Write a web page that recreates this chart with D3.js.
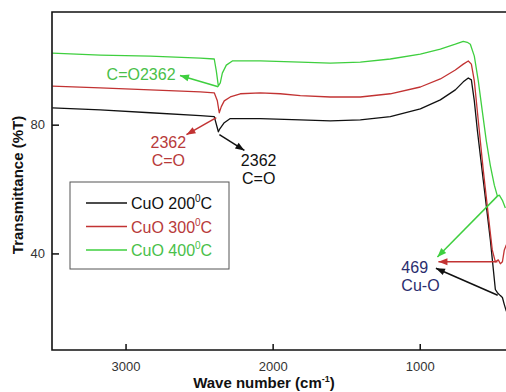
<!DOCTYPE html>
<html>
<script src='https://d3js.org/d3.v7.min.js'></script>
<style>
body {margin: 0; background: white;}
text {font-family: 'Liberation Sans', Arial, sans-serif;}
.curve {fill: none; stroke-width: 1.3; stroke-linejoin: round;}
</style>
<body onload='init()'>
<script>
// series: wave number (cm-1) and transmittance (%T)
var waveBlack = [3498, 3172, 2832, 2492, 2397, 2369, 2358, 2329, 2288, 2084, 1812, 1608, 1404, 1200, 996, 860, 758, 704, 670, 649, 629, 608, 568, 520, 486, 472, 452, 438, 425, 411];
var tBlack = [85.2, 84.6, 83.7, 82.8, 82.5, 77.8, 78.8, 80.6, 81.9, 81.9, 81.5, 81.2, 81.5, 82.5, 84.9, 87.7, 90.8, 93.3, 94.5, 93.9, 87.4, 78.1, 62.7, 44.2, 28.8, 27.8, 26.9, 26.3, 24.1, 22.0];

var waveRed = [3498, 3172, 2832, 2492, 2397, 2376, 2363, 2349, 2329, 2288, 2220, 2084, 1948, 1812, 1608, 1404, 1200, 996, 860, 758, 704, 670, 649, 629, 602, 568, 534, 507, 486, 466, 452, 438, 425, 411];
var tRed = [92.0, 91.4, 90.8, 90.2, 89.9, 87.4, 83.7, 85.6, 87.4, 88.6, 89.6, 89.9, 89.6, 89.0, 88.6, 88.6, 89.6, 91.7, 94.2, 97.0, 98.8, 99.8, 98.8, 93.6, 81.2, 65.8, 51.9, 41.1, 37.4, 38.0, 36.8, 37.4, 41.1, 42.7];

var waveGreen = [3498, 3172, 2832, 2492, 2397, 2383, 2369, 2356, 2342, 2315, 2274, 2084, 1812, 1608, 1404, 1200, 996, 860, 758, 704, 677, 656, 629, 602, 575, 548, 520, 493, 472, 459, 438, 418];
var tGreen = [102.2, 101.6, 101.3, 100.7, 100.4, 96.7, 92.0, 93.0, 96.0, 98.5, 99.8, 99.8, 99.4, 99.1, 99.4, 100.4, 101.9, 103.5, 105.0, 105.9, 105.6, 105.0, 101.3, 93.6, 84.3, 75.1, 67.3, 61.2, 57.8, 58.1, 56.5, 54.1];

var seriesNames = ['CuO 200', 'CuO 300', 'CuO 400'];
var xTicks = [3000, 2000, 1000];
var yTicks = [40, 80];

// peak labels, anchored in data units
var peakLabels = [
  {lines: ['C=O2362'], at: [2660, 93.9], anchor: 'end', color: '#49c049'},
  {lines: ['2362', 'C=O'], at: [2709, 72.6], anchor: 'middle', color: '#b83a3a'},
  {lines: ['2362', 'C=O'], at: [2095, 67.3], anchor: 'middle', color: '#111'},
  {lines: ['469', 'Cu-O'], at: [1125, 34.0], anchor: 'start', color: '#2b2d6e'}
];
var peakArrows = [
  {from: [2370, 91.8], to: [2630, 95.3], color: '#3fcf3f'},
  {from: [2383, 82.2], to: [2586, 76.9], color: '#c23333'},
  {from: [2362, 76.9], to: [2192, 72.0], color: '#111'},
  {from: [472, 57.8], to: [880, 38.9], color: '#3fcf3f'},
  {from: [472, 37.4], to: [873, 37.4], color: '#c23333'},
  {from: [470, 27.0], to: [890, 35.4], color: '#111'}
];

function init() {
  var colors = ['#111', '#c23333', '#3fcf3f'];
  var textColors = ['#111', '#b83a3a', '#49c049'];
  var left = 52, top = 12, bottom = 350, right = 508;

  var x = d3.scaleLinear().domain([3500, 400]).range([left, right]);
  var y = d3.scaleLinear().domain([10, 115]).range([bottom, top]);

  var svg = d3.select('body')
    .append('svg')
    .attr('width', 506)
    .attr('height', 392);

  var series = [
    {wave: waveBlack, t: tBlack},
    {wave: waveRed, t: tRed},
    {wave: waveGreen, t: tGreen}
  ];

  var line = d3.line()
    .x(function(d) { return x(d[0]); })
    .y(function(d) { return y(d[1]); });

  // curves
  svg.append('g')
    .selectAll('path')
    .data(series)
    .enter()
    .append('path')
    .attr('class', 'curve')
    .attr('stroke', function(d, i) { return colors[i]; })
    .attr('d', function(d) { return line(d.wave.map(function(w, j) { return [w, d.t[j]]; })); });

  // frame: top, left, bottom
  svg.append('path')
    .attr('d', 'M' + right + ',' + top + 'H' + left + 'V' + bottom + 'H' + right)
    .attr('fill', 'none')
    .attr('stroke', '#111')
    .attr('stroke-width', 1.6);

  // axes with inward ticks
  var xAxis = svg.append('g')
    .attr('transform', 'translate(0,' + bottom + ')')
    .call(d3.axisBottom(x).tickValues(xTicks).tickFormat(d3.format('d')).tickSizeInner(-6).tickSizeOuter(0).tickPadding(12));
  var yAxis = svg.append('g')
    .attr('transform', 'translate(' + left + ',0)')
    .call(d3.axisLeft(y).tickValues(yTicks).tickSizeInner(-7).tickSizeOuter(0).tickPadding(7));
  [xAxis, yAxis].forEach(function(a) {
    a.select('.domain').remove();
    a.selectAll('line').attr('stroke', '#111').attr('stroke-width', 1.5);
    a.selectAll('text').attr('font-size', 13).attr('fill', '#333')
      .style('font-family', "'Liberation Sans', Arial, sans-serif");
  });

  // axis titles
  var xt = svg.append('text')
    .attr('x', 264)
    .attr('y', 388)
    .attr('text-anchor', 'middle')
    .attr('font-size', 15)
    .attr('font-weight', 'bold')
    .attr('fill', '#111')
    .text('Wave number (cm');
  xt.append('tspan').attr('dy', -6).attr('font-size', 9).text('-1');
  xt.append('tspan').attr('dy', 6).text(')');

  svg.append('text')
    .attr('transform', 'translate(23,185)rotate(-90)')
    .attr('text-anchor', 'middle')
    .attr('font-size', 15)
    .attr('font-weight', 'bold')
    .attr('fill', '#111')
    .text('Transmittance (%T)');

  // annotation arrows: shaft plus a filled head at the label end
  var arrows = svg.append('g')
    .selectAll('g')
    .data(peakArrows)
    .enter()
    .append('g');
  arrows.append('line')
    .attr('x1', function(d) { return x(d.from[0]); })
    .attr('y1', function(d) { return y(d.from[1]); })
    .attr('x2', function(d) { return x(d.to[0]); })
    .attr('y2', function(d) { return y(d.to[1]); })
    .attr('stroke', function(d) { return d.color; })
    .attr('stroke-width', 1.5);
  arrows.append('path')
    .attr('d', 'M0,0L-9,-3.5L-9,3.5Z')
    .attr('fill', function(d) { return d.color; })
    .attr('transform', function(d) {
      var x1 = x(d.from[0]), y1 = y(d.from[1]), x2 = x(d.to[0]), y2 = y(d.to[1]);
      var a = Math.atan2(y2 - y1, x2 - x1) * 180 / Math.PI;
      return 'translate(' + x2 + ',' + y2 + ')rotate(' + a + ')';
    });

  peakLabels.forEach(function(p) {
    var t = svg.append('text')
      .attr('x', x(p.at[0]))
      .attr('y', y(p.at[1]))
      .attr('text-anchor', p.anchor)
      .attr('font-size', 16)
      .attr('fill', p.color);
    p.lines.forEach(function(s, i) {
      t.append('tspan').attr('x', x(p.at[0])).attr('dy', i ? 18 : 0).text(s);
    });
  });

  // legend
  var lg = svg.append('g').attr('transform', 'translate(70,182)');
  lg.append('rect')
    .attr('width', 159)
    .attr('height', 87)
    .attr('fill', 'white')
    .attr('stroke', '#555')
    .attr('stroke-width', 1);
  var row = lg.selectAll('g.row')
    .data(seriesNames)
    .enter()
    .append('g')
    .attr('transform', function(d, i) { return 'translate(0,' + (21 + i * 23.5) + ')'; });
  row.append('line')
    .attr('x1', 16).attr('x2', 57)
    .attr('stroke', function(d, i) { return colors[i]; })
    .attr('stroke-width', 1.3);
  var lt = row.append('text')
    .attr('x', 61)
    .attr('y', 6)
    .attr('font-size', 16)
    .attr('fill', function(d, i) { return textColors[i]; })
    .text(function(d) { return d; });
  lt.append('tspan').attr('dy', -7).attr('font-size', 10).text('0');
  lt.append('tspan').attr('dy', 7).text('C');
}
</script>
</body>
</html>
